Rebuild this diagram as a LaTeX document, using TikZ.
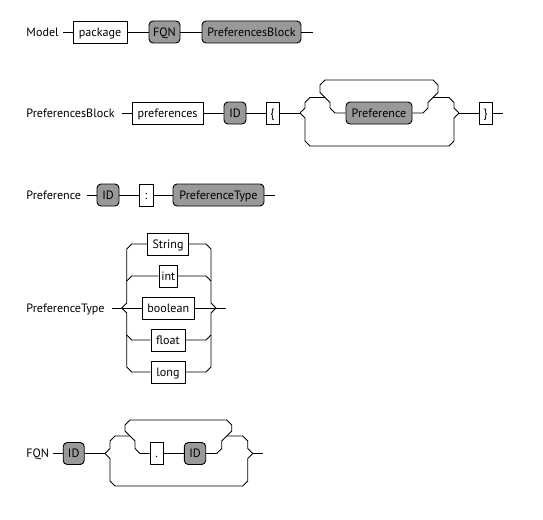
\documentclass[tikz,border=0pt]{standalone}
\usepackage{fontspec}
\setmainfont{PT Sans}
\definecolor{refgray}{RGB}{153,153,153}
\begin{document}
\begin{tikzpicture}[x=1pt,y=-1pt,line width=0.9pt,
  every node/.style={font=\fontsize{12.1}{14}\selectfont,text height=8.5pt,text depth=0pt},
  rulename/.style={anchor=west,inner sep=0pt},
  keyword/.style={draw,fill=white,inner sep=0pt,minimum height=22pt},
  ruleref/.style={draw,fill=refgray,rounded corners=4pt,inner sep=0pt,minimum height=22pt}]
\useasboundingbox (0,0) rectangle (543,519);

% ---- Model ----
\node[rulename] (nModel) at (26,32) {Model};
\coordinate (mIn) at (63,32);
\coordinate (mOut) at (313,32);
\node[keyword,minimum width=54pt] (mPackage) at (100,32) {package};
\node[ruleref,minimum width=31pt] (mFqn) at (164.5,32) {FQN};
\node[ruleref,minimum width=99pt] (mBlock) at (251.5,32) {PreferencesBlock};
\draw (mIn) -- (mPackage) -- (mFqn) -- (mBlock) -- (mOut);

% ---- PreferencesBlock ----
\node[rulename] (nBlock) at (26,113) {PreferencesBlock};
\coordinate (bIn) at (122,113);
\node[keyword,minimum width=71pt] (bKey) at (167.5,113) {preferences};
\node[ruleref,minimum width=22pt] (bId) at (235,113) {ID};
\node[keyword,minimum width=13pt] (bOpen) at (272.5,113) {\{};
\coordinate (bSplit) at (300,113);
\node[ruleref,minimum width=66pt] (bPref) at (379,113) {Preference};
\coordinate (bMerge) at (459,113);
\node[keyword,minimum width=13pt] (bClose) at (485.5,113) {\}};
\coordinate (bOut) at (503,113);
\coordinate (bJoinL) at (325,97.5);
\coordinate (bJoinR) at (433,97.5);
\draw (bIn) -- (bKey) -- (bId) -- (bOpen) -- (bSplit);
\draw (bMerge) -- (bClose) -- (bOut);
% optional bypass
\draw (bSplit) -- (305,118) -- (305,141) -- (310,146) -- (449,146) -- (454,141) -- (454,118) -- (bMerge);
% entry and exit of the repetition
\draw (bSplit) -- (305,108) -- (305,102.5) -- (310,97.5) -- (bJoinL);
\draw (bJoinR) -- (449,97.5) -- (454,102.5) -- (454,108) -- (bMerge);
% repetition loop
\draw (bPref.west) -- (335,113) -- (330,108) -- (330,102.5) -- (320,92.5) -- (320,85) -- (325,80)
  -- (433,80) -- (438,85) -- (438,92.5) -- (428,102.5) -- (428,108) -- (423,113) -- (bPref.east);

% ---- Preference ----
\node[rulename] (nPref) at (26,195) {Preference};
\coordinate (pIn) at (87,195);
\node[ruleref,minimum width=22pt] (pId) at (108,195) {ID};
\node[keyword,minimum width=14pt] (pColon) at (146,195) {:};
\node[ruleref,minimum width=91pt] (pType) at (218.5,195) {PreferenceType};
\coordinate (pOut) at (275,195);
\draw (pIn) -- (pId) -- (pColon) -- (pType) -- (pOut);

% ---- PreferenceType ----
\node[rulename] (nType) at (26,308) {PreferenceType};
\coordinate (tIn) at (111.7,308);
\coordinate (tSplit) at (121.7,308);
\node[keyword,minimum width=40.6pt] (tString) at (168,244) {String};
\node[keyword,minimum width=18.7pt] (tInt) at (168.3,276) {int};
\node[keyword,minimum width=52pt] (tBool) at (168.3,308) {boolean};
\node[keyword,minimum width=34pt] (tFloat) at (168,340) {float};
\node[keyword,minimum width=34pt] (tLong) at (168,372) {long};
\coordinate (tMerge) at (216,308);
\coordinate (tOut) at (226,308);
\draw (tIn) -- (tBool) -- (tOut);
\draw (tSplit) -- (126.7,303) -- (126.7,249) -- (131.7,244) -- (tString.west);
\draw (tSplit) -- (126.7,313) -- (126.7,367) -- (131.7,372) -- (tLong.west);
\draw (126.7,281) -- (131.7,276) -- (tInt.west);
\draw (126.7,335) -- (131.7,340) -- (tFloat.west);
\draw (tString.east) -- (206,244) -- (211,249) -- (211,303) -- (tMerge);
\draw (tLong.east) -- (206,372) -- (211,367) -- (211,313) -- (tMerge);
\draw (tInt.east) -- (206,276) -- (211,281);
\draw (tFloat.east) -- (206,340) -- (211,335);

% ---- FQN ----
\node[rulename] (nFqn) at (26,453.5) {FQN};
\coordinate (fIn) at (53.3,453.5);
\node[ruleref,minimum width=21pt] (fId) at (73.7,453.5) {ID};
\coordinate (fSplit) at (105,453.5);
\node[keyword,minimum width=13.3pt] (fDot) at (156.7,453.5) {.};
\node[ruleref,minimum width=21.4pt] (fId2) at (195,453.5) {ID};
\coordinate (fMerge) at (252.7,453.5);
\coordinate (fOut) at (263.3,453.5);
\coordinate (fJoinL) at (130,436);
\coordinate (fJoinR) at (226.7,436);
\draw (fIn) -- (fId) -- (fSplit);
\draw (fDot) -- (fId2);
\draw (fMerge) -- (fOut);
% optional bypass
\draw (fSplit) -- (110,458.5) -- (110,481) -- (115,486) -- (242.7,486) -- (247.7,481) -- (247.7,458.5) -- (fMerge);
% entry and exit of the repetition
\draw (fSplit) -- (110,448.5) -- (110,441) -- (115,436) -- (fJoinL);
\draw (fJoinR) -- (242.7,436) -- (247.7,441) -- (247.7,448.5) -- (fMerge);
% repetition loop
\draw (fDot.west) -- (140,453.5) -- (135,448.5) -- (135,441) -- (125,431) -- (125,425) -- (130,420)
  -- (226.7,420) -- (231.7,425) -- (231.7,431) -- (221.7,441) -- (221.7,448.5) -- (216.7,453.5) -- (fId2.east);
\end{tikzpicture}
\end{document}
